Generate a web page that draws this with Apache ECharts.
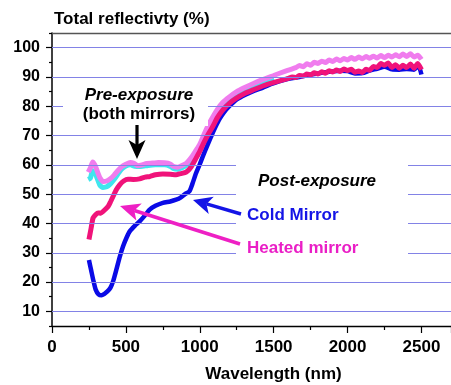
<!DOCTYPE html>
<html><head><meta charset="utf-8">
<script src="https://cdn.jsdelivr.net/npm/echarts@6/dist/echarts.min.js"></script>
<style>html,body{margin:0;padding:0;background:#fff}#c{width:451px;height:385px}</style>
</head><body><div id="c"></div>
<script>
// ---- data ----
const xTicks = [0, 500, 1000, 1500, 2000, 2500];
const yTicks = [10, 20, 30, 40, 50, 60, 70, 80, 90, 100];

const preCyanWl  = [245,260,275,290,305,325,345,370,395,420,445,470,500,530,560,600,650,700,760,800,820,850,880,910,940,975,1000,1030,1060,1090,1120,1155,1200,1250,1300,1360,1420,1500];
const preCyanVal = [55,55.5,58,57.5,55.5,53,52.3,52.5,53.5,55,56.8,58.5,59.6,60,59.5,59.4,59.8,60,60,59.5,58.8,58.5,59,59.8,61.5,64.2,66.2,69.7,73,75.7,78.2,80.5,82.4,84.2,85.5,86.9,88.2,89.7];

const preWl  = [245,260,275,290,305,325,345,370,395,420,445,470,500,530,555,580,610,640,680,720,760,800,820,850,880,910,940,975,1000,1030,1060,1090,1120,1155,1200,1250,1300,1360,1420,1500,1580,1650,1675,1700,1725,1750,1775,1800,1825,1850,1875,1900,1925,1950,1975,2000,2025,2050,2075,2100,2125,2150,2175,2200,2225,2250,2275,2300,2325,2350,2375,2400,2425,2450,2475,2500];
const preVal = [57.5,59,61,60,58,55.5,54.3,54.5,55.3,56.5,58,59.3,60.2,60.8,60.5,59.7,60,60.5,60.6,60.8,60.7,60.3,59.5,59.2,59.8,60.6,62.3,65,67,70.5,73.8,76.5,79,81.3,83.2,85,86.3,87.7,89,90.5,92,93.2,93.9,93.5,94.5,94,95,94.6,95.4,94.9,95.8,95.3,96.1,95.5,96.3,95.8,96.6,96,96.8,96.2,97,96.4,97.1,96.5,97.3,96.6,97.4,96.8,97.6,96.9,97.8,97,97.9,96.8,97.4,96];

const coldWl  = [250,265,280,295,315,335,355,375,395,415,436,458,481,505,526,560,593,625,661,700,750,800,840,870,900,930,950,975,1000,1020,1050,1076,1105,1132,1165,1200,1250,1312,1370,1424,1480,1537,1600,1650,1700,1750,1800,1850,1900,1950,2000,2050,2100,2150,2200,2250,2300,2350,2400,2450,2480,2500];
const coldVal = [27.5,24,20.5,17.5,15.8,15.5,16,16.8,18,20.5,24.3,28.5,32.2,35.2,37.3,39.2,40.7,42.5,44.7,46,47,47.5,48.1,48.8,50,51,53.5,57.2,60.2,62.8,66.5,69.6,72.8,75.5,78,80,82.3,84,85.3,86.3,87.5,88.5,89.4,89.8,90.3,90.8,91.2,91.6,91.9,92.1,92,91.2,91.3,92.2,92.8,93.5,92.6,92.5,92.7,92.5,93.8,90.8];

const heatWl  = [250,265,278,295,312,330,346,365,380,397,413,435,458,485,514,550,593,630,661,700,750,800,840,870,908,940,975,1000,1031,1060,1087,1120,1155,1200,1245,1300,1357,1430,1514,1600,1625,1650,1675,1700,1725,1750,1775,1800,1825,1850,1875,1900,1925,1950,1975,2000,2025,2050,2075,2100,2125,2150,2175,2200,2225,2250,2275,2300,2325,2350,2375,2400,2425,2450,2475,2500];
const heatVal = [34.5,38.5,41.9,43,43.6,43.5,44.1,45,45.8,47.5,49.2,51.5,53.2,54.5,55.1,55,55.2,55.8,56,56.6,56.9,56.8,56.6,57,57.5,59.2,62.3,64.6,67.9,70.7,73,76.2,78.7,81,82.7,84.3,85.5,87,88.3,89.5,90,89.8,90.5,90.3,91,90.7,91.4,91,91.8,91.3,92.1,91.7,92.4,91.9,92.7,92.2,92.6,91.6,92,91.5,92.6,92.3,93.6,93.2,94.6,94,94.8,93.2,94.2,93,94,93.2,94.4,93,94.6,92.5];

const zip = (a, b) => a.map((v, i) => [v, b[i]]);

const FONT = '"Liberation Sans", Arial, Helvetica, sans-serif';
const GRIDC = '#8282e6';

const chart = echarts.init(document.getElementById('c'), null, {renderer: 'canvas'});

function arrow(tip, tail, headLen, halfW, notch, color, w) {
  const dx = tail[0] - tip[0], dy = tail[1] - tip[1];
  const L = Math.hypot(dx, dy), ux = dx / L, uy = dy / L, px = -uy, py = ux;
  const bx = tip[0] + ux * headLen, by = tip[1] + uy * headLen;
  const nx = tip[0] + ux * notch, ny = tip[1] + uy * notch;
  return [
    {type: 'line', z: 101, shape: {x1: nx, y1: ny, x2: tail[0], y2: tail[1]}, style: {stroke: color, lineWidth: w}},
    {type: 'polygon', z: 101, shape: {points: [tip, [bx + px * halfW, by + py * halfW], [nx, ny], [bx - px * halfW, by - py * halfW]]}, style: {fill: color}}
  ];
}

const lineSeries = (name, wl, val, color, width, z) => ({
  name, type: 'line', data: zip(wl, val), showSymbol: false, smooth: 0.2,
  lineStyle: {color, width}, itemStyle: {color}, z, animation: false, silent: true
});

const cyan = lineSeries('Pre-exposure (cyan)', preCyanWl, preCyanVal, '#3fe6ee', 5, 3);
cyan.markLine = {
  silent: true, symbol: ['none', 'none'], animation: false,
  label: {show: false},
  lineStyle: {color: GRIDC, width: 1.2, type: 'solid'},
  emphasis: {disabled: true},
  data: yTicks.map(v => ({yAxis: v}))
};
cyan.z = 1;

chart.setOption({
  animation: false,
  grid: {left: 52, right: 0, top: 33, bottom: 59, outerBoundsMode: 'none', containLabel: false},
  xAxis: [{
    type: 'value', min: 0, max: 2700, interval: 500, position: 'bottom',
    axisLine: {lineStyle: {color: '#000', width: 1.3}},
    axisTick: {length: 7, lineStyle: {color: '#000', width: 1.2}},
    minorTick: {show: true, splitNumber: 2, length: 4, lineStyle: {color: '#000', width: 1.2}},
    splitLine: {show: false},
    axisLabel: {showMaxLabel: false, margin: 13, color: '#000', fontSize: 17, fontWeight: 'bold', fontFamily: FONT,
      formatter: v => xTicks.includes(v) ? String(v) : ''},
    name: 'Wavelength (nm)', nameLocation: 'middle', nameGap: 40,
    nameTextStyle: {color: '#000', fontSize: 17, fontWeight: 'bold', fontFamily: FONT, padding: [0, 0, 0, 44]}
  }, {
    type: 'value', min: 0, max: 2700, position: 'top',
    axisLine: {lineStyle: {color: '#555', width: 1.3}},
    axisTick: {show: false}, axisLabel: {show: false}, splitLine: {show: false}
  }],
  yAxis: [{
    type: 'value', min: 5, max: 105, interval: 10, position: 'left',
    axisLine: {show: true, lineStyle: {color: '#000', width: 1.5}},
    axisTick: {show: true, length: 3, lineStyle: {color: '#000', width: 1.2}},
    minorTick: {show: true, splitNumber: 2, length: 6, lineStyle: {color: '#000', width: 1.2}},
    axisLabel: {show: false}, splitLine: {show: false}
  }, {
    type: 'value', min: 5, max: 105, interval: 5, position: 'left',
    axisLine: {show: false}, axisTick: {show: false}, splitLine: {show: false},
    axisLabel: {margin: 12, color: '#000', fontSize: 16, fontWeight: 'bold', fontFamily: FONT,
      formatter: v => yTicks.includes(v) ? String(v) : ''}
  }],
  series: [
    cyan,
    lineSeries('Pre-exposure', preWl, preVal, '#f07cee', 5, 2),
    lineSeries('Cold Mirror', coldWl, coldVal, '#0a0ae6', 4.5, 3),
    lineSeries('Heated mirror', heatWl, heatVal, '#f0137a', 5, 4)
  ],
  graphic: [
    {type: 'rect', z: 100, shape: {x: 63, y: 82, width: 145, height: 44}, style: {fill: '#fff'}},
    {type: 'rect', z: 100, shape: {x: 236, y: 150, width: 172, height: 112}, style: {fill: '#fff'}},
    {type: 'text', z: 102, x: 54, y: 19, style: {text: 'Total reflectivty (%)', fill: '#000', font: 'bold 17px ' + FONT, textAlign: 'left', textVerticalAlign: 'middle'}},
    {type: 'text', z: 102, x: 139, y: 95, style: {text: 'Pre-exposure', fill: '#000', font: 'italic bold 17px ' + FONT, textAlign: 'center', textVerticalAlign: 'middle'}},
    {type: 'text', z: 102, x: 139, y: 114, style: {text: '(both mirrors)', fill: '#000', font: 'bold 17px ' + FONT, textAlign: 'center', textVerticalAlign: 'middle'}},
    {type: 'text', z: 102, x: 317, y: 181, style: {text: 'Post-exposure', fill: '#000', font: 'italic bold 17px ' + FONT, textAlign: 'center', textVerticalAlign: 'middle'}},
    {type: 'text', z: 102, x: 247, y: 215, style: {text: 'Cold Mirror', fill: '#1414e6', font: 'bold 17px ' + FONT, textAlign: 'left', textVerticalAlign: 'middle'}},
    {type: 'text', z: 102, x: 247, y: 248, style: {text: 'Heated mirror', fill: '#ea1ec6', font: 'bold 17px ' + FONT, textAlign: 'left', textVerticalAlign: 'middle'}},
    ...arrow([137, 159], [137, 125], 19, 8.5, 14, '#000', 3.2),
    ...arrow([193, 200], [241, 214], 19, 9, 14, '#1414e6', 3.5),
    ...arrow([120, 206], [240, 244], 20, 9, 15, '#ee20c4', 3.5)
  ]
});
</script></body></html>
